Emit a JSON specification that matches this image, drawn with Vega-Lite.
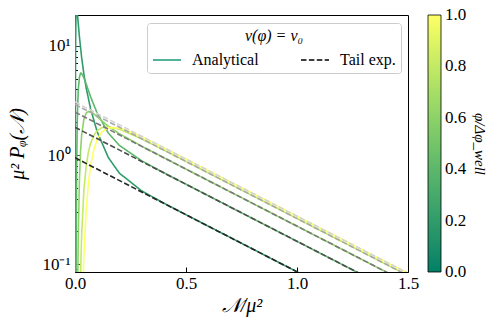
{
  "$schema": "https://vega.github.io/schema/vega-lite/v6.json",
  "width": 333,
  "height": 257,
  "autosize": {"type": "none"},
  "padding": {"left": 75, "top": 15, "right": 89, "bottom": 56},
  "background": "white",
  "config": {
    "font": "Liberation Serif",
    "view": {"stroke": "black", "strokeWidth": 1},
    "axis": {
      "grid": false,
      "domain": false,
      "ticks": true,
      "tickWidth": 1,
      "tickColor": "black",
      "tickOpacity": 1,
      "zindex": 1,
      "labelColor": "black",
      "titleColor": "black",
      "labelFont": "Liberation Serif",
      "titleFont": "Liberation Serif",
      "labelFontSize": 17,
      "titleFontSize": 20,
      "titleFontWeight": "normal",
      "titleFontStyle": "italic",
      "labelOverlap": false,
      "labelBound": false,
      "labelFlush": false
    },
    "legend": {
      "labelFont": "Liberation Serif",
      "titleFont": "Liberation Serif",
      "labelColor": "black",
      "titleColor": "black",
      "titleFontWeight": "normal"
    }
  },
  "datasets": {
    "curves": [
      {"phi": 0.2, "kind": "Analytical", "N": 0.001, "P": 0.063},
      {"phi": 0.2, "kind": "Analytical", "N": 0.0012, "P": 0.2667},
      {"phi": 0.2, "kind": "Analytical", "N": 0.0015, "P": 1.053},
      {"phi": 0.2, "kind": "Analytical", "N": 0.002, "P": 3.79},
      {"phi": 0.2, "kind": "Analytical", "N": 0.0025, "P": 7.556},
      {"phi": 0.2, "kind": "Analytical", "N": 0.003, "P": 11.39},
      {"phi": 0.2, "kind": "Analytical", "N": 0.004, "P": 17.39},
      {"phi": 0.2, "kind": "Analytical", "N": 0.005, "P": 20.8},
      {"phi": 0.2, "kind": "Analytical", "N": 0.0068, "P": 22.5},
      {"phi": 0.2, "kind": "Analytical", "N": 0.01, "P": 20.49},
      {"phi": 0.2, "kind": "Analytical", "N": 0.012, "P": 18.49},
      {"phi": 0.2, "kind": "Analytical", "N": 0.015, "P": 15.7},
      {"phi": 0.2, "kind": "Analytical", "N": 0.02, "P": 12.1},
      {"phi": 0.2, "kind": "Analytical", "N": 0.03, "P": 7.81},
      {"phi": 0.2, "kind": "Analytical", "N": 0.04, "P": 5.527},
      {"phi": 0.2, "kind": "Analytical", "N": 0.05, "P": 4.163},
      {"phi": 0.2, "kind": "Analytical", "N": 0.07, "P": 2.665},
      {"phi": 0.2, "kind": "Analytical", "N": 0.1, "P": 1.635},
      {"phi": 0.2, "kind": "Analytical", "N": 0.15, "P": 0.9507},
      {"phi": 0.2, "kind": "Analytical", "N": 0.2, "P": 0.6828},
      {"phi": 0.2, "kind": "Analytical", "N": 0.3, "P": 0.4711},
      {"phi": 0.2, "kind": "Analytical", "N": 0.4, "P": 0.3629},
      {"phi": 0.2, "kind": "Analytical", "N": 0.5, "P": 0.2844},
      {"phi": 0.2, "kind": "Analytical", "N": 1.0, "P": 0.08536},
      {"phi": 0.2, "kind": "Analytical", "N": 1.5, "P": 0.02563},

      {"phi": 0.4, "kind": "Analytical", "N": 0.004, "P": 0.0159},
      {"phi": 0.4, "kind": "Analytical", "N": 0.005, "P": 0.0883},
      {"phi": 0.4, "kind": "Analytical", "N": 0.006, "P": 0.2633},
      {"phi": 0.4, "kind": "Analytical", "N": 0.007, "P": 0.556},
      {"phi": 0.4, "kind": "Analytical", "N": 0.008, "P": 0.947},
      {"phi": 0.4, "kind": "Analytical", "N": 0.01, "P": 1.889},
      {"phi": 0.4, "kind": "Analytical", "N": 0.012, "P": 2.847},
      {"phi": 0.4, "kind": "Analytical", "N": 0.015, "P": 4.037},
      {"phi": 0.4, "kind": "Analytical", "N": 0.02, "P": 5.197},
      {"phi": 0.4, "kind": "Analytical", "N": 0.025, "P": 5.603},
      {"phi": 0.4, "kind": "Analytical", "N": 0.0275, "P": 5.636},
      {"phi": 0.4, "kind": "Analytical", "N": 0.035, "P": 5.405},
      {"phi": 0.4, "kind": "Analytical", "N": 0.045, "P": 4.81},
      {"phi": 0.4, "kind": "Analytical", "N": 0.05, "P": 4.499},
      {"phi": 0.4, "kind": "Analytical", "N": 0.07, "P": 3.436},
      {"phi": 0.4, "kind": "Analytical", "N": 0.1, "P": 2.418},
      {"phi": 0.4, "kind": "Analytical", "N": 0.15, "P": 1.5949},
      {"phi": 0.4, "kind": "Analytical", "N": 0.2, "P": 1.2276},
      {"phi": 0.4, "kind": "Analytical", "N": 0.3, "P": 0.888},
      {"phi": 0.4, "kind": "Analytical", "N": 0.4, "P": 0.6893},
      {"phi": 0.4, "kind": "Analytical", "N": 0.5, "P": 0.5407},
      {"phi": 0.4, "kind": "Analytical", "N": 1.0, "P": 0.1624},
      {"phi": 0.4, "kind": "Analytical", "N": 1.5, "P": 0.04876},

      {"phi": 0.6, "kind": "Analytical", "N": 0.01, "P": 0.0168},
      {"phi": 0.6, "kind": "Analytical", "N": 0.012, "P": 0.0596},
      {"phi": 0.6, "kind": "Analytical", "N": 0.015, "P": 0.1983},
      {"phi": 0.6, "kind": "Analytical", "N": 0.02, "P": 0.6},
      {"phi": 0.6, "kind": "Analytical", "N": 0.025, "P": 1.081},
      {"phi": 0.6, "kind": "Analytical", "N": 0.03, "P": 1.521},
      {"phi": 0.6, "kind": "Analytical", "N": 0.04, "P": 2.132},
      {"phi": 0.6, "kind": "Analytical", "N": 0.05, "P": 2.4225},
      {"phi": 0.6, "kind": "Analytical", "N": 0.06, "P": 2.51},
      {"phi": 0.6, "kind": "Analytical", "N": 0.07, "P": 2.492},
      {"phi": 0.6, "kind": "Analytical", "N": 0.085, "P": 2.379},
      {"phi": 0.6, "kind": "Analytical", "N": 0.1, "P": 2.237},
      {"phi": 0.6, "kind": "Analytical", "N": 0.15, "P": 1.836},
      {"phi": 0.6, "kind": "Analytical", "N": 0.2, "P": 1.5688},
      {"phi": 0.6, "kind": "Analytical", "N": 0.3, "P": 1.2084},
      {"phi": 0.6, "kind": "Analytical", "N": 0.4, "P": 0.9471},
      {"phi": 0.6, "kind": "Analytical", "N": 0.5, "P": 0.7442},
      {"phi": 0.6, "kind": "Analytical", "N": 1.0, "P": 0.2235},
      {"phi": 0.6, "kind": "Analytical", "N": 1.5, "P": 0.06711},

      {"phi": 0.8, "kind": "Analytical", "N": 0.02, "P": 0.0221},
      {"phi": 0.8, "kind": "Analytical", "N": 0.025, "P": 0.0815},
      {"phi": 0.8, "kind": "Analytical", "N": 0.03, "P": 0.1856},
      {"phi": 0.8, "kind": "Analytical", "N": 0.04, "P": 0.4765},
      {"phi": 0.8, "kind": "Analytical", "N": 0.05, "P": 0.7867},
      {"phi": 0.8, "kind": "Analytical", "N": 0.06, "P": 1.0587},
      {"phi": 0.8, "kind": "Analytical", "N": 0.07, "P": 1.2786},
      {"phi": 0.8, "kind": "Analytical", "N": 0.085, "P": 1.5179},
      {"phi": 0.8, "kind": "Analytical", "N": 0.1, "P": 1.6709},
      {"phi": 0.8, "kind": "Analytical", "N": 0.12, "P": 1.7809},
      {"phi": 0.8, "kind": "Analytical", "N": 0.15, "P": 1.8207},
      {"phi": 0.8, "kind": "Analytical", "N": 0.2, "P": 1.7292},
      {"phi": 0.8, "kind": "Analytical", "N": 0.3, "P": 1.4074},
      {"phi": 0.8, "kind": "Analytical", "N": 0.4, "P": 1.1119},
      {"phi": 0.8, "kind": "Analytical", "N": 0.5, "P": 0.8748},
      {"phi": 0.8, "kind": "Analytical", "N": 1.0, "P": 0.2627},
      {"phi": 0.8, "kind": "Analytical", "N": 1.5, "P": 0.07889},

      {"phi": 1.0, "kind": "Analytical", "N": 0.03, "P": 0.0213},
      {"phi": 1.0, "kind": "Analytical", "N": 0.035, "P": 0.0574},
      {"phi": 1.0, "kind": "Analytical", "N": 0.04, "P": 0.1175},
      {"phi": 1.0, "kind": "Analytical", "N": 0.05, "P": 0.3031},
      {"phi": 1.0, "kind": "Analytical", "N": 0.06, "P": 0.5416},
      {"phi": 1.0, "kind": "Analytical", "N": 0.07, "P": 0.7917},
      {"phi": 1.0, "kind": "Analytical", "N": 0.085, "P": 1.1287},
      {"phi": 1.0, "kind": "Analytical", "N": 0.1, "P": 1.3913},
      {"phi": 1.0, "kind": "Analytical", "N": 0.12, "P": 1.6225},
      {"phi": 1.0, "kind": "Analytical", "N": 0.15, "P": 1.7798},
      {"phi": 1.0, "kind": "Analytical", "N": 0.2, "P": 1.772},
      {"phi": 1.0, "kind": "Analytical", "N": 0.25, "P": 1.6376},
      {"phi": 1.0, "kind": "Analytical", "N": 0.3, "P": 1.4744},
      {"phi": 1.0, "kind": "Analytical", "N": 0.4, "P": 1.1685},
      {"phi": 1.0, "kind": "Analytical", "N": 0.5, "P": 0.9198},
      {"phi": 1.0, "kind": "Analytical", "N": 1.0, "P": 0.2762},
      {"phi": 1.0, "kind": "Analytical", "N": 1.5, "P": 0.08295}
    ],
    "tails": [
      {"phi": 0.2, "kind": "Tail exp.", "N": 0, "P": 0.9465},
      {"phi": 0.2, "kind": "Tail exp.", "N": 1.5, "P": 0.02563},
      {"phi": 0.4, "kind": "Tail exp.", "N": 0, "P": 1.8004},
      {"phi": 0.4, "kind": "Tail exp.", "N": 1.5, "P": 0.04876},
      {"phi": 0.6, "kind": "Tail exp.", "N": 0, "P": 2.478},
      {"phi": 0.6, "kind": "Tail exp.", "N": 1.5, "P": 0.06711},
      {"phi": 0.8, "kind": "Tail exp.", "N": 0, "P": 2.9131},
      {"phi": 0.8, "kind": "Tail exp.", "N": 1.5, "P": 0.07889},
      {"phi": 1.0, "kind": "Tail exp.", "N": 0, "P": 3.063},
      {"phi": 1.0, "kind": "Tail exp.", "N": 1.5, "P": 0.08295}
    ]
  },
  "layer": [
    {
      "data": {"name": "curves"},
      "mark": {"type": "line", "clip": true, "strokeWidth": 1.6},
      "encoding": {
        "x": {
          "field": "N", "type": "quantitative",
          "scale": {"domain": [0, 1.5], "nice": false, "zero": false},
          "axis": {
            "values": [0, 0.5, 1, 1.5], "format": ".1f",
            "offset": -5, "tickSize": 5, "labelPadding": 3,
            "title": "𝒩/μ²", "titlePadding": 4
          }
        },
        "y": {
          "field": "P", "type": "quantitative",
          "scale": {"type": "log", "domain": [0.085, 19.2], "nice": false},
          "axis": {
            "values": [0.09, 0.1, 0.2, 0.3, 0.4, 0.5, 0.6, 0.7, 0.8, 0.9, 1, 2, 3, 4, 5, 6, 7, 8, 9, 10],
            "labelExpr": "abs(datum.value-10)<1e-9 ? '10¹' : (abs(datum.value-1)<1e-9 ? '10⁰' : (abs(datum.value-0.1)<1e-9 ? '10⁻¹' : ''))",
            "offset": -5, "tickSize": 5,
            "tickDash": {"condition": {"test": "abs(datum.value-10)<1e-9 || abs(datum.value-1)<1e-9 || abs(datum.value-0.1)<1e-9", "value": [1, 0]}, "value": [2.5, 2.5]},
            "tickDashOffset": {"condition": {"test": "abs(datum.value-10)<1e-9 || abs(datum.value-1)<1e-9 || abs(datum.value-0.1)<1e-9", "value": 0}, "value": 2.5},
            "labelPadding": 5,
            "title": "μ² Pᵩ(𝒩)", "titlePadding": 14
          }
        },
        "color": {
          "field": "phi", "type": "quantitative",
          "scale": {"domain": [0, 1], "range": ["#008066", "#ffff66"]},
          "legend": {
            "orient": "none", "legendX": 353, "legendY": 0,
            "type": "gradient", "direction": "vertical",
            "gradientLength": 257, "gradientThickness": 13,
            "gradientStrokeColor": "black", "gradientStrokeWidth": 0.8,
            "values": [0, 0.2, 0.4, 0.6, 0.8, 1], "format": ".1f",
            "labelFontSize": 17, "labelOffset": 4, "labelOverlap": false,
            "title": "φ/Δφ_well", "titleOrient": "right", "titleAngle": 90,
            "titleFontSize": 15, "titleFontStyle": "italic", "titleAnchor": "middle", "titlePadding": 6,
            "encode": {"labels": {"update": {"baseline": {"value": "middle"}}}}
          }
        },
        "strokeDash": {
          "field": "kind", "type": "nominal",
          "scale": {"domain": ["Analytical", "Tail exp."], "range": [[1, 0], [5.5, 2.4]]},
          "legend": {
            "orient": "none", "legendX": 72, "legendY": 8,
            "direction": "horizontal", "columns": 2,
            "title": "v(φ) = v₀", "titleFontStyle": "italic", "titleFontSize": 16,
            "titleAnchor": "middle", "titlePadding": 1,
            "labelFontSize": 16, "symbolType": "stroke", "symbolSize": 784,
            "symbolStrokeWidth": 1.6, "columnPadding": 38, "labelOffset": 10,
            "padding": 5, "strokeColor": "#cccccc", "fillColor": "white", "cornerRadius": 3,
            "encode": {"symbols": {"update": {"stroke": {"signal": "datum.value === 'Analytical' ? '#1b9a7a' : 'black'"}}}}
          }
        },
        "detail": {"field": "phi", "type": "quantitative"}
      }
    },
    {
      "data": {"name": "tails"},
      "mark": {"type": "line", "clip": true, "strokeWidth": 1.6},
      "encoding": {
        "x": {"field": "N", "type": "quantitative"},
        "y": {"field": "P", "type": "quantitative"},
        "stroke": {
          "field": "phi", "type": "ordinal",
          "scale": {"domain": [0.2, 0.4, 0.6, 0.8, 1.0], "range": ["#262626", "#4d4d4d", "#7a7a7a", "#a8a8a8", "#d4d4d4"]},
          "legend": null
        },
        "strokeDash": {"field": "kind", "type": "nominal"}
      }
    }
  ]
}
